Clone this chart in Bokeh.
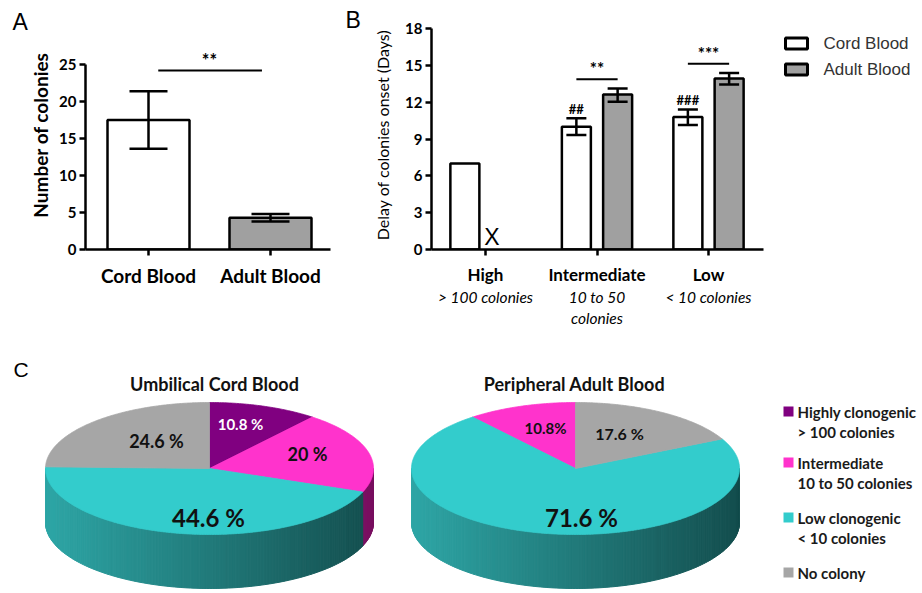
import numpy as np
from bokeh.plotting import figure
from bokeh.models import Range1d, ColumnDataSource, Whisker, TeeHead, FixedTicker, LinearAxis
from bokeh.layouts import row, column
from bokeh.embed import file_html
from bokeh.resources import INLINE
from bokeh.core.properties import value

# ---------------- data ----------------
groups_a = ["Cord Blood", "Adult Blood"]
colonies_mean = [17.5, 4.3]
colonies_low = [13.6, 3.8]
colonies_high = [21.4, 4.8]
colonies_ticks = [0, 5, 10, 15, 20, 25]
colonies_sig = "**"

classes_b = ["High", "Intermediate", "Low"]
classes_b_note = ["> 100 colonies", "10 to 50\ncolonies", "< 10 colonies"]
series_b = ["Cord Blood", "Adult Blood"]
cord_delay = [7.0, 10.0, 10.8]
cord_delay_low = [np.nan, 9.33, 10.14]
cord_delay_high = [np.nan, 10.68, 11.41]
adult_delay = [np.nan, 12.63, 13.92]
adult_delay_low = [np.nan, 12.03, 13.44]
adult_delay_high = [np.nan, 13.11, 14.38]
delay_ticks = [0, 3, 6, 9, 12, 15, 18]
delay_sig = ["", "**", "***"]
delay_vs_high = ["", "##", "###"]

pie_classes = [("Highly clonogenic", "> 100 colonies"),
               ("Intermediate", "10 to 50 colonies"),
               ("Low clonogenic", "< 10 colonies"),
               ("No colony", "")]
pie_titles = ["Umbilical Cord Blood", "Peripheral Adult Blood"]
cord_share = [10.8, 20.0, 44.6, 24.6]
adult_share = [0.0, 10.8, 71.6, 17.6]
cord_share_text = ["10.8 %", "20 %", "44.6 %", "24.6 %"]
adult_share_text = ["", "10.8%", "71.6 %", "17.6 %"]

# ---------------- styles ----------------
FONT = "Lato"
ARIAL = "Liberation Sans"
BAR_FILL = ["#FFFFFF", "#A0A0A0"]
PIE_TOP = ["#800080", "#FF33CC", "#33CCCC", "#A6A6A6"]
PIE_SIDE_LIGHT = [(100, 0, 100), (205, 35, 165), (46, 166, 166), (140, 140, 140)]
PIE_SIDE_DARK = [(60, 0, 60), (120, 15, 95), (20, 78, 78), (75, 75, 75)]
LW = 2.5
TOP_H = 338
# common top/bottom borders for every plot of the top row (Bokeh aligns them)
ROW_T, ROW_B = 20, 89
FRAME_BOTTOM = TOP_H - ROW_B   # screen y of value 0


def finish_fig(p):
    p.outline_line_color = None
    p.background_fill_color = "white"
    p.border_fill_color = "white"
    p.xgrid.visible = False
    p.ygrid.visible = False


def style_axes(p, tick_size):
    for ax in p.axis:
        ax.axis_line_width = LW
        ax.axis_line_color = "black"
        ax.major_tick_line_width = LW
        ax.major_tick_line_color = "black"
        ax.major_tick_out = 6
        ax.major_tick_in = 0
        ax.minor_tick_line_color = None
        ax.major_label_text_font = FONT
        ax.major_label_text_font_style = "bold"
        ax.major_label_text_font_size = tick_size
        ax.major_label_text_color = "black"
        ax.axis_label_text_color = "black"


def whisker(src, head):
    return Whisker(source=src, base="x", lower="lo", upper="hi", line_width=LW, line_color="black",
                   level="annotation",
                   upper_head=TeeHead(size=head, line_width=LW, line_color="black"),
                   lower_head=TeeHead(size=head, line_width=LW, line_color="black"))


# ---------------- panel A ----------------
A_W = 340
A_L, A_R = 85, 10
A_CAT_PX = 122.0
A_UNIT_PX = 7.4
a_x0 = -(148 - A_L) / A_CAT_PX
a_x1 = a_x0 + (A_W - A_L - A_R) / A_CAT_PX
a_y1 = (FRAME_BOTTOM - ROW_T) / A_UNIT_PX

pa = figure(width=A_W, height=TOP_H, x_range=Range1d(a_x0, a_x1), y_range=Range1d(0, a_y1),
            min_border_left=A_L, min_border_right=A_R, min_border_top=ROW_T, min_border_bottom=ROW_B,
            output_backend="svg", toolbar_location=None, title=None)
finish_fig(pa)
style_axes(pa, "15px")
xa = list(range(len(groups_a)))
pa.xaxis.ticker = FixedTicker(ticks=xa)
pa.xaxis.major_label_overrides = {i: g for i, g in enumerate(groups_a)}
pa.xaxis.major_label_text_font_size = "19px"
pa.xaxis.major_label_standoff = 8
pa.yaxis.ticker = FixedTicker(ticks=colonies_ticks)
pa.yaxis.bounds = (0, colonies_ticks[-1])
pa.yaxis.major_label_standoff = 3
pa.yaxis.axis_label = "Number of colonies"
pa.yaxis.axis_label_text_font = FONT
pa.yaxis.axis_label_text_font_style = "bold"
pa.yaxis.axis_label_text_font_size = "19px"
pa.yaxis.axis_label_standoff = 4

src_a = ColumnDataSource(dict(x=xa, top=colonies_mean, lo=colonies_low, hi=colonies_high, fill=BAR_FILL))
pa.vbar(x="x", top="top", width=82 / A_CAT_PX, source=src_a, fill_color="fill",
        line_color="black", line_width=LW)
pa.add_layout(whisker(src_a, 38))
sig_y = max(colonies_high) + 2.8
pa.segment(x0=[xa[0] + 0.08], x1=[xa[1] - 0.07], y0=[sig_y], y1=[sig_y], line_width=2, line_color="black")
pa.text(x=[(xa[0] + xa[1]) / 2], y=[sig_y + 1.4], text=[colonies_sig], text_align="center",
        text_baseline="middle", text_font=value(FONT), text_font_style="bold", text_font_size="18px",
        text_color="black")
pa.text(x=[a_x0 - (A_L - 12) / A_CAT_PX], y=[a_y1 - (21 - ROW_T) / A_UNIT_PX], text=["A"], text_align="left",
        text_baseline="middle", text_font=value(ARIAL), text_font_size="23px", text_color="black",
        level="overlay")

# ---------------- panel B ----------------
B_W = 430
B_L, B_R = 91, 7
B_CAT_PX = 111.5
B_UNIT_PX = (FRAME_BOTTOM - 28) / 18.0
b_x0 = -(485 - 340 - B_L) / B_CAT_PX
b_x1 = b_x0 + (B_W - B_L - B_R) / B_CAT_PX
b_y1 = (FRAME_BOTTOM - ROW_T) / B_UNIT_PX
OFF = 0.185
BW = 29 / B_CAT_PX

pb = figure(width=B_W, height=TOP_H, x_range=Range1d(b_x0, b_x1), y_range=Range1d(0, b_y1),
            min_border_left=B_L, min_border_right=B_R, min_border_top=ROW_T, min_border_bottom=ROW_B,
            output_backend="svg", toolbar_location=None, title=None)
finish_fig(pb)
style_axes(pb, "15px")
xb = list(range(len(classes_b)))
pb.xaxis.ticker = FixedTicker(ticks=xb)
pb.xaxis.major_label_overrides = {i: c for i, c in enumerate(classes_b)}
pb.xaxis.major_label_text_font_size = "17px"
pb.xaxis.major_label_standoff = 8
pb.yaxis.ticker = FixedTicker(ticks=delay_ticks)
pb.yaxis.bounds = (0, delay_ticks[-1])
pb.yaxis.major_label_standoff = 3
pb.yaxis.axis_label = "Delay of colonies onset (Days)"
pb.yaxis.axis_label_text_font = FONT
pb.yaxis.axis_label_text_font_style = "normal"
pb.yaxis.axis_label_text_font_size = "16px"
pb.yaxis.axis_label_standoff = 10

note_axis = LinearAxis(ticker=FixedTicker(ticks=xb),
                       major_label_overrides={i: n for i, n in enumerate(classes_b_note)},
                       axis_line_color=None, major_tick_line_color=None, minor_tick_line_color=None,
                       major_tick_out=0, major_tick_in=0,
                       major_label_text_font=FONT, major_label_text_font_style="italic",
                       major_label_text_font_size="15.5px", major_label_text_color="black",
                       major_label_standoff=0)
pb.add_layout(note_axis, "below")

for s, (vals, lo, hi, off) in enumerate([(cord_delay, cord_delay_low, cord_delay_high, -OFF),
                                          (adult_delay, adult_delay_low, adult_delay_high, OFF)]):
    idx = [i for i in xb if not np.isnan(vals[i])]
    src = ColumnDataSource(dict(x=[i + off for i in idx], top=[vals[i] for i in idx]))
    pb.vbar(x="x", top="top", width=BW, source=src, fill_color=BAR_FILL[s], line_color="black", line_width=LW)
    eidx = [i for i in idx if not np.isnan(lo[i])]
    esrc = ColumnDataSource(dict(x=[i + off for i in eidx], lo=[lo[i] for i in eidx], hi=[hi[i] for i in eidx]))
    pb.add_layout(whisker(esrc, 20))

# missing adult "High" value marker
miss = [i for i in xb if np.isnan(adult_delay[i])]
pb.text(x=[i + 0.058 for i in miss], y=[12.5 / B_UNIT_PX] * len(miss), text=["X"] * len(miss),
        text_align="center", text_baseline="middle", text_font=value(ARIAL), text_font_size="23px",
        text_color="black", level="overlay")

# significance
for i in xb:
    if delay_sig[i]:
        yy = adult_delay_high[i] + 0.75
        pb.segment(x0=[i - OFF], x1=[i + OFF], y0=[yy], y1=[yy], line_width=2, line_color="black")
        pb.text(x=[i], y=[yy + 0.85], text=[delay_sig[i]], text_align="center", text_baseline="middle",
                text_font=value(FONT), text_font_style="bold", text_font_size="17px", text_color="black")
    if delay_vs_high[i]:
        pb.text(x=[i - OFF], y=[cord_delay_high[i] + 0.75], text=[delay_vs_high[i]], text_align="center",
                text_baseline="middle", text_font=value(FONT), text_font_style="bold",
                text_font_size="13px", text_color="black")

pb.text(x=[b_x0 - (B_L - 5) / B_CAT_PX], y=[b_y1 - (19 - ROW_T) / B_UNIT_PX], text=["B"], text_align="left",
        text_baseline="middle", text_font=value(ARIAL), text_font_size="23px", text_color="black",
        level="overlay")

# ---------------- legend for B ----------------
L_W = 152
pl = figure(width=L_W, height=TOP_H, x_range=Range1d(770, 922), y_range=Range1d(FRAME_BOTTOM, ROW_T),
            min_border_left=0, min_border_right=0, min_border_top=ROW_T, min_border_bottom=ROW_B,
            x_axis_location=None, y_axis_location=None, output_backend="svg", toolbar_location=None, title=None)
finish_fig(pl)
leg_y = [43, 69]
pl.rect(x=[796] * 2, y=leg_y, width=22, height=11, fill_color=BAR_FILL, line_color="black", line_width=3)
pl.text(x=[823] * 2, y=leg_y, text=series_b, text_align="left", text_baseline="middle",
        text_font=value(ARIAL), text_font_size="17px", text_color="#333333")

# ---------------- panel C (pies) ----------------
P_W, P_H = 922, 593 - TOP_H
pp = figure(width=P_W, height=P_H, x_range=Range1d(0, 922), y_range=Range1d(593, TOP_H), min_border=0,
            x_axis_location=None, y_axis_location=None, output_backend="svg", toolbar_location=None, title=None)
finish_fig(pp)

RX, RY, DEPTH = 164, 66, 54
PIE_CY = 468


def draw_pie(p, cx, cy, shares, turn):
    edges = 2 * np.pi * np.concatenate([[0.0], np.cumsum(shares)]) / float(sum(shares))

    def px(t):
        return cx + turn * RX * np.sin(t)

    def py(t):
        return cy - RY * np.cos(t)

    base = np.linspace(np.pi / 2, 1.5 * np.pi, 161)
    inner = [e for e in edges if np.pi / 2 < e < 1.5 * np.pi]
    ts = np.unique(np.concatenate([base, inner]))
    xs_list, ys_list, cols = [], [], []
    for t0, t1 in zip(ts[:-1], ts[1:]):
        tm = 0.5 * (t0 + t1)
        k = int(np.searchsorted(edges, tm, side="right") - 1)
        k = min(max(k, 0), len(shares) - 1)
        u = (px(tm) - (cx - RX)) / (2 * RX)
        c = tuple(int(round(l * (1 - u) + d * u)) for l, d in zip(PIE_SIDE_LIGHT[k], PIE_SIDE_DARK[k]))
        col = "#%02x%02x%02x" % c
        xs_list.append([px(t0), px(t1), px(t1), px(t0)])
        ys_list.append([py(t0), py(t1), py(t1) + DEPTH, py(t0) + DEPTH])
        cols.append(col)
    p.patches(xs_list, ys_list, fill_color=cols, line_color=cols, line_width=1)

    txs, tys, tcols = [], [], []
    for k in range(len(shares)):
        a, b = edges[k], edges[k + 1]
        if b - a <= 0:
            continue
        t = np.linspace(a, b, max(3, int((b - a) / 0.01)))
        txs.append([cx] + list(px(t)))
        tys.append([cy] + list(py(t)))
        tcols.append(PIE_TOP[k])
    p.patches(txs, tys, fill_color=tcols, line_color=tcols, line_width=0.8)


draw_pie(pp, 209, PIE_CY, cord_share, 1)
draw_pie(pp, 575, PIE_CY, adult_share, -1)

# slice labels
lab_src = ColumnDataSource(dict(
    x=[240, 307, 208, 156, 545, 581, 619],
    y=[423, 453, 517, 440, 427, 517, 433],
    text=[cord_share_text[0], cord_share_text[1], cord_share_text[2], cord_share_text[3],
          adult_share_text[1], adult_share_text[2], adult_share_text[3]],
    size=["15px", "18px", "24px", "18px", "15px", "24px", "16px"],
    color=["#FFFFFF", "#111111", "#111111", "#111111", "#111111", "#111111", "#111111"],
))
pp.text(x="x", y="y", text="text", source=lab_src, text_align="center", text_baseline="middle",
        text_font=value(FONT), text_font_style="bold", text_font_size="size", text_color="color")

# titles
pp.text(x=[214, 574], y=[383, 383], text=pie_titles, text_align="center", text_baseline="middle",
        text_font=value(FONT), text_font_style="bold", text_font_size="18px", text_color="#111111")
pp.text(x=[13], y=[369], text=["C"], text_align="left", text_baseline="middle",
        text_font=value(ARIAL), text_font_size="21px", text_color="black")

# legend for C
leg_c_y = [411, 462, 517, 572]
pp.scatter(x=[788] * 4, y=leg_c_y, marker="square", size=10, fill_color=PIE_TOP, line_color=None)
pp.text(x=[797] * 4, y=leg_c_y, text=[c[0] for c in pie_classes], text_align="left", text_baseline="middle",
        text_font=value(FONT), text_font_style="bold", text_font_size="15px", text_color="#1a1a1a")
sub_idx = [i for i, c in enumerate(pie_classes) if c[1]]
pp.text(x=[797] * len(sub_idx), y=[leg_c_y[i] + 20 for i in sub_idx], text=[pie_classes[i][1] for i in sub_idx],
        text_align="left", text_baseline="middle", text_font=value(FONT), text_font_style="bold",
        text_font_size="15px", text_color="#1a1a1a")

layout = column(row(pa, pb, pl), pp)
open("out.html", "w").write(file_html(layout, INLINE))
